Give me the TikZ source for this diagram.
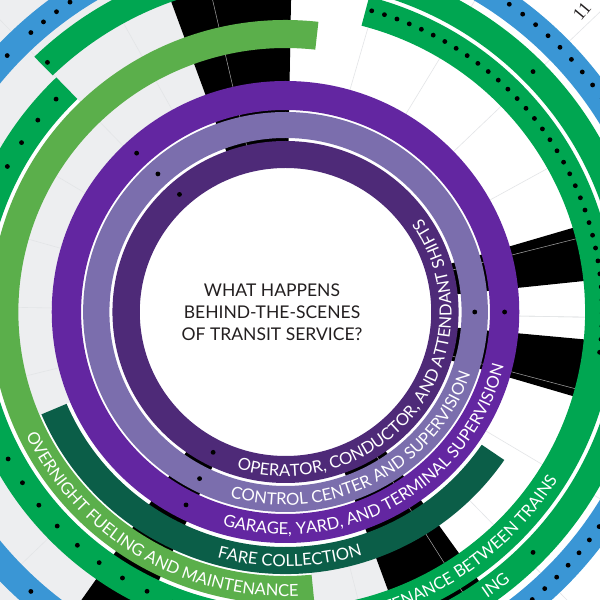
\documentclass[tikz,border=0pt]{standalone}
\usepackage{fontspec}
\setmainfont{Lato}
\newfontfamily\numfont{Liberation Serif}
\usetikzlibrary{decorations.text}
\definecolor{dpurple}{HTML}{4E2A78}
\definecolor{lpurple}{HTML}{7B6EAD}
\definecolor{mpurple}{HTML}{6326A1}
\definecolor{dgreen}{HTML}{0B5E48}
\definecolor{lgreen}{HTML}{5BAF4B}
\definecolor{mgreen}{HTML}{00A651}
\definecolor{mblue}{HTML}{3A96D5}
\definecolor{bggrey}{HTML}{EDEEF0}
\definecolor{gridgrey}{HTML}{E3E5E7}
\definecolor{titleink}{HTML}{231F20}
\newcommand{\annseg}[5]{\fill[#5] (#3:#2) arc[start angle=#3, end angle=#4, radius=#2] -- (#4:#1) arc[start angle=#4, end angle=#3, radius=#1] -- cycle;}
\newcommand{\ringfont}{\fontsize{16.6}{16.6}\selectfont}
\newcommand{\ringlabel}[5]{\path[decorate, decoration={text along path, text align=#4, text color=white, text={|\ringfont|#5}}] (#2:#1) arc[start angle=#2, end angle=#3, radius=#1];}
\tikzset{
  hair/.style={draw=gray!70, line width=0.5pt},
  gridline/.style={draw=gridgrey, line width=0.6pt},
  dotmark/.style={fill=black}
}
\begin{document}
\begin{tikzpicture}[x=1pt,y=1pt]
\useasboundingbox (0,0) rectangle (600,600);
\clip (0,0) rectangle (600,600);
\fill[white] (0,0) rectangle (600,600);
\begin{scope}[shift={(285.5,288)}, xscale=1.012]
  % grey sector
  \annseg{231}{720}{110}{290}{bggrey}
  % grid lines
  \foreach \a in {-1,14,...,359} \draw[gridline] (\a:231) -- (\a:720);
  % white gaps between neighbouring rings
  \annseg{231}{235}{203}{325.6}{white}
  \annseg{262}{264}{203}{275.6}{white}
  \annseg{292}{296}{134}{275.6}{white}
  \annseg{326}{330}{-56}{75.3}{white}
  % black wedges
  \annseg{150}{362}{89}{110}{black}
  \annseg{150}{362}{6}{16.5}{black}
  \annseg{150}{362}{-16.5}{-5.3}{black}
  \annseg{150}{362}{-70}{-54.6}{black}
  \annseg{150}{362}{-125}{-115}{black}
  \foreach \a in {103,14.3,-15,-58} \draw[hair] (\a:150) -- (\a:362);
  % rings
  \fill[dpurple, even odd rule] (0,0) circle[radius=171] (0,0) circle[radius=144];
  \fill[lpurple, even odd rule] (0,0) circle[radius=200] (0,0) circle[radius=174];
  \fill[mpurple, even odd rule] (0,0) circle[radius=231] (0,0) circle[radius=202];
  \annseg{235}{262}{203}{325.6}{dgreen}
  \annseg{264}{292}{83.6}{275.6}{lgreen}
  \annseg{296}{326}{134}{435.3}{mgreen}
  \annseg{330}{356}{-80}{134.2}{mgreen}
  \fill[mblue, even odd rule] (0,0) circle[radius=390] (0,0) circle[radius=363];
  % dots on purple rings
  \foreach \a/\r in {131.7/157.5, 132.4/187, 132.8/216.5, 0/187, 0/216.5, -117/157.5, -117/187, -117/216.5}
    \fill[dotmark] (\a:\r) circle[radius=2.4];
  % dots on green rings
  \foreach \a in {136.8,141.9,...,262} \fill[dotmark] (\a:311) circle[radius=2.4];
  \foreach \a in {74.2,71.8,...,-8} \fill[dotmark] (\a:313) circle[radius=2.4];
  \foreach \a in {133.3,44.5,-44.5} \fill[dotmark] (\a:343) circle[radius=2.4];
  % dots on blue ring
  \foreach \a in {109.5,112,...,132} \fill[dotmark] (\a:376) circle[radius=2.4];
  \foreach \a in {137,228} \fill[dotmark] (\a:376) circle[radius=2.4];
  \foreach \a in {29.3,31.8,...,64.3} \fill[dotmark] (\a:379) circle[radius=2.4];
  \foreach \a in {-64.7,-62.2,...,-29.7} \fill[dotmark] (\a:377) circle[radius=2.4];
  % ring labels
  \ringlabel{164}{-116}{44}{center}{OPERATOR, CONDUCTOR, AND ATTENDANT SHIFTS}
  \ringlabel{193}{-142}{17}{center}{CONTROL CENTER AND SUPERVISION}
  \ringlabel{222.5}{-140}{20}{center}{GARAGE, YARD, AND TERMINAL SUPERVISION}
  \ringlabel{254.5}{-130}{-48}{center}{FARE COLLECTION}
  \ringlabel{284.5}{-180}{-62}{center}{OVERNIGHT FUELING AND MAINTENANCE}
  \ringlabel{317}{-120}{-32}{right}{MAINTENANCE BETWEEN TRAINS}
  \ringlabel{349}{-80}{-50.4}{right}{ING}
\end{scope}
\node[font=\fontsize{17.5}{22}\selectfont, text=titleink, align=center] (title) at (272,288) {WHAT HAPPENS\\BEHIND-THE-SCENES\\OF TRANSIT SERVICE?};
\node[font=\fontsize{18}{18}\selectfont\numfont, text=titleink, rotate=50] (hour11) at (582,589) {11};
\end{tikzpicture}
\end{document}
